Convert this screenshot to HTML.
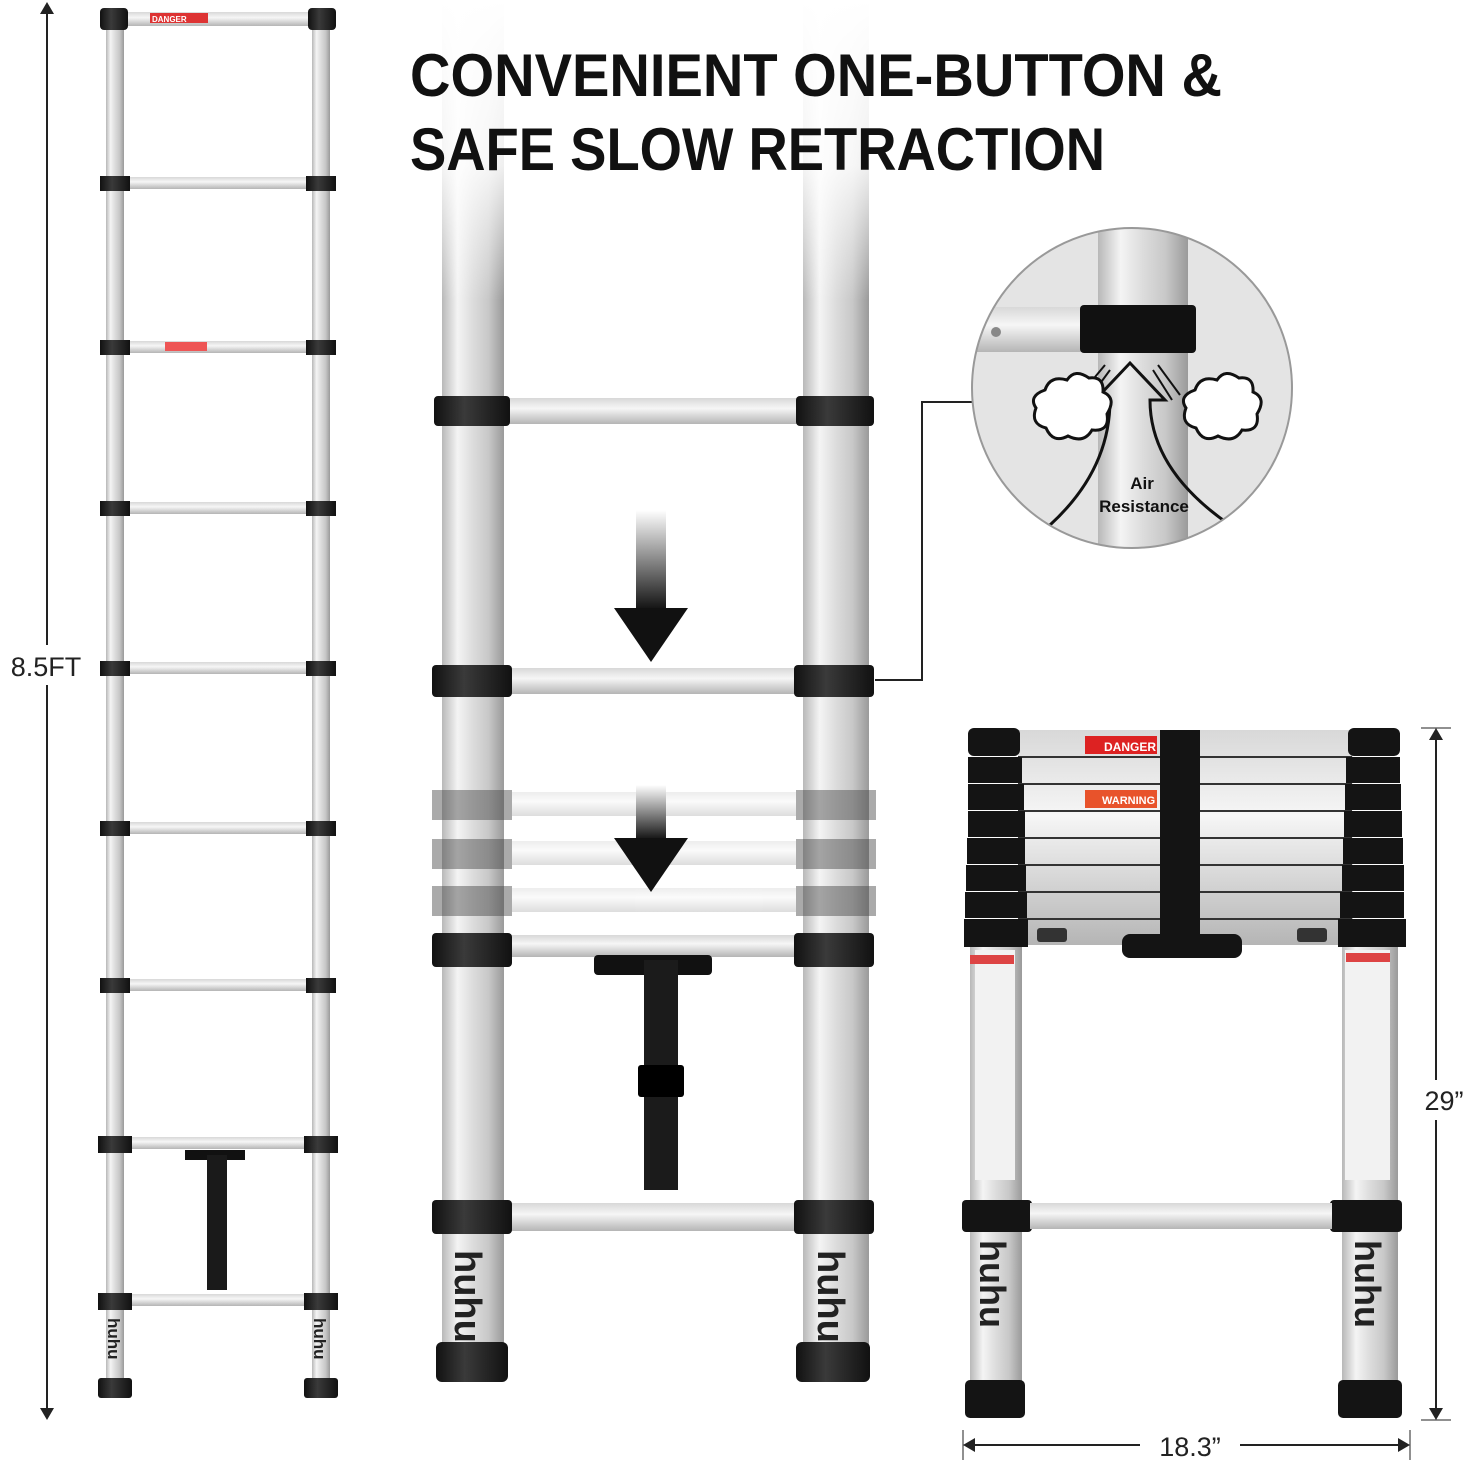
<!DOCTYPE html>
<html><head><meta charset="utf-8"><style>
html,body{margin:0;padding:0;background:#fff}
svg{display:block}
</style></head><body>
<svg width="1471" height="1463" viewBox="0 0 1471 1463" xmlns="http://www.w3.org/2000/svg" font-family="Liberation Sans, sans-serif">
<defs>
<linearGradient id="tube" x1="0" x2="1" y1="0" y2="0">
<stop offset="0" stop-color="#b8b8b8"/><stop offset="0.25" stop-color="#f4f4f4"/><stop offset="0.5" stop-color="#dcdcdc"/><stop offset="0.75" stop-color="#c8c8c8"/><stop offset="1" stop-color="#9a9a9a"/>
</linearGradient>
<linearGradient id="rung" x1="0" x2="0" y1="0" y2="1">
<stop offset="0" stop-color="#d8d8d8"/><stop offset="0.4" stop-color="#f6f6f6"/><stop offset="1" stop-color="#b5b5b5"/>
</linearGradient>
<linearGradient id="band" x1="0" x2="1" y1="0" y2="0">
<stop offset="0" stop-color="#111"/><stop offset="0.4" stop-color="#3a3a3a"/><stop offset="1" stop-color="#111"/>
</linearGradient>
<linearGradient id="arr" x1="0" x2="0" y1="0" y2="1">
<stop offset="0" stop-color="#fff"/><stop offset="1" stop-color="#111"/>
</linearGradient>
<linearGradient id="fade" x1="0" x2="0" y1="0" y2="1">
<stop offset="0" stop-color="#fff" stop-opacity="1"/><stop offset="0.55" stop-color="#fff" stop-opacity="0.85"/><stop offset="1" stop-color="#fff" stop-opacity="0"/>
</linearGradient>
<clipPath id="cc"><circle cx="1132" cy="388" r="160"/></clipPath>
</defs>

<!-- Left dimension -->
<line x1="47" y1="4" x2="47" y2="1418" stroke="#222" stroke-width="2"/>
<path d="M40 14 L47 2 L54 14 Z M40 1408 L47 1420 L54 1408 Z" fill="#222"/>
<rect x="0" y="645" width="94" height="40" fill="#fff"/>
<text x="46" y="676" font-size="27" text-anchor="middle" fill="#222">8.5FT</text>

<!-- Left ladder -->
<rect x="106" y="10" width="18" height="1380" fill="url(#tube)"/>
<rect x="312" y="10" width="18" height="1380" fill="url(#tube)"/>
<g>
<rect x="120" y="12" width="196" height="14" fill="url(#rung)"/>
<rect x="150" y="13" width="58" height="10" fill="#d33"/><text x="152" y="22" font-size="8" fill="#fff" font-weight="bold">DANGER</text>
<rect x="120" y="177" width="196" height="12" fill="url(#rung)"/>
<rect x="120" y="341" width="196" height="12" fill="url(#rung)"/>
<rect x="165" y="342" width="42" height="9" fill="#e55"/>
<rect x="120" y="502" width="196" height="12" fill="url(#rung)"/>
<rect x="120" y="662" width="196" height="12" fill="url(#rung)"/>
<rect x="120" y="822" width="196" height="12" fill="url(#rung)"/>
<rect x="120" y="979" width="196" height="12" fill="url(#rung)"/>
<rect x="120" y="1137" width="196" height="12" fill="url(#rung)"/>
<rect x="120" y="1294" width="196" height="12" fill="url(#rung)"/>
</g>
<g fill="url(#band)">
<rect x="100" y="8" width="28" height="22" rx="4"/><rect x="308" y="8" width="28" height="22" rx="4"/>
<rect x="100" y="176" width="30" height="15"/><rect x="306" y="176" width="30" height="15"/>
<rect x="100" y="340" width="30" height="15"/><rect x="306" y="340" width="30" height="15"/>
<rect x="100" y="501" width="30" height="15"/><rect x="306" y="501" width="30" height="15"/>
<rect x="100" y="661" width="30" height="15"/><rect x="306" y="661" width="30" height="15"/>
<rect x="100" y="821" width="30" height="15"/><rect x="306" y="821" width="30" height="15"/>
<rect x="100" y="978" width="30" height="15"/><rect x="306" y="978" width="30" height="15"/>
<rect x="98" y="1136" width="34" height="17"/><rect x="304" y="1136" width="34" height="17"/>
<rect x="98" y="1293" width="34" height="17"/><rect x="304" y="1293" width="34" height="17"/>
<rect x="98" y="1378" width="34" height="20" rx="3"/><rect x="304" y="1378" width="34" height="20" rx="3"/>
</g>
<rect x="185" y="1150" width="60" height="10" fill="#111"/>
<rect x="207" y="1155" width="20" height="135" fill="#1a1a1a"/>
<text transform="translate(108,1318) rotate(90)" font-size="17" font-weight="bold" fill="#222">huhu</text>
<text transform="translate(314,1318) rotate(90)" font-size="17" font-weight="bold" fill="#222">huhu</text>

<!-- Middle ladder -->
<rect x="442" y="0" width="62" height="1350" fill="url(#tube)"/>
<rect x="803" y="0" width="66" height="1350" fill="url(#tube)"/>
<rect x="430" y="0" width="450" height="300" fill="url(#fade)"/>
<rect x="500" y="398" width="306" height="26" fill="url(#rung)"/>
<rect x="500" y="668" width="306" height="26" fill="url(#rung)"/>
<g opacity="0.45">
<rect x="500" y="792" width="306" height="24" fill="url(#rung)"/>
<rect x="500" y="841" width="306" height="24" fill="url(#rung)"/>
<rect x="500" y="888" width="306" height="24" fill="url(#rung)"/>
<rect x="432" y="790" width="80" height="30" fill="#444"/><rect x="796" y="790" width="80" height="30" fill="#444"/>
<rect x="432" y="839" width="80" height="30" fill="#444"/><rect x="796" y="839" width="80" height="30" fill="#444"/>
<rect x="432" y="886" width="80" height="30" fill="#444"/><rect x="796" y="886" width="80" height="30" fill="#444"/>
</g>
<rect x="500" y="935" width="306" height="22" fill="url(#rung)"/>
<rect x="500" y="1203" width="306" height="28" fill="url(#rung)"/>
<g fill="url(#band)">
<rect x="434" y="396" width="76" height="30" rx="4"/><rect x="796" y="396" width="78" height="30" rx="4"/>
<rect x="432" y="665" width="80" height="32" rx="4"/><rect x="794" y="665" width="80" height="32" rx="4"/>
<rect x="432" y="933" width="80" height="34" rx="4"/><rect x="794" y="933" width="80" height="34" rx="4"/>
<rect x="432" y="1200" width="80" height="34" rx="4"/><rect x="794" y="1200" width="80" height="34" rx="4"/>
<rect x="436" y="1342" width="72" height="40" rx="6"/><rect x="796" y="1342" width="74" height="40" rx="6"/>
</g>
<rect x="594" y="955" width="118" height="20" rx="4" fill="#111"/>
<rect x="644" y="960" width="34" height="230" fill="#1b1b1b"/>
<rect x="638" y="1065" width="46" height="32" rx="3" fill="#000"/>
<text transform="translate(455,1250) rotate(90)" font-size="38" font-weight="bold" fill="#222">huhu</text>
<text transform="translate(818,1250) rotate(90)" font-size="38" font-weight="bold" fill="#222">huhu</text>
<rect x="636" y="510" width="30" height="100" fill="url(#arr)"/>
<path d="M614 608 L688 608 L651 662 Z" fill="#111"/>
<rect x="636" y="785" width="30" height="55" fill="url(#arr)"/>
<path d="M614 838 L688 838 L651 892 Z" fill="#111"/>

<!-- Title -->
<text x="410" y="96" font-size="60" font-weight="bold" fill="#111" textLength="812" lengthAdjust="spacingAndGlyphs">CONVENIENT ONE-BUTTON &amp;</text>
<text x="410" y="170" font-size="60" font-weight="bold" fill="#111" textLength="695" lengthAdjust="spacingAndGlyphs">SAFE SLOW RETRACTION</text>

<!-- connector -->
<polyline points="875,680 922,680 922,402 972,402" fill="none" stroke="#222" stroke-width="2"/>

<!-- Circle detail -->
<g clip-path="url(#cc)">
<rect x="960" y="220" width="350" height="340" fill="#e4e4e4"/>
<rect x="1098" y="220" width="90" height="340" fill="url(#tube)"/>
<rect x="975" y="307" width="115" height="45" fill="url(#rung)"/>
<circle cx="996" cy="332" r="5" fill="#888"/>
<rect x="1080" y="305" width="116" height="48" rx="4" fill="#111"/>
<path d="M1050 525 Q1110 470 1110 400 L1095 400 L1130 363 L1165 400 L1150 400 Q1150 470 1230 525" fill="none" stroke="#111" stroke-width="3"/>
<g stroke="#111" stroke-width="2">
<line x1="1080" y1="395" x2="1105" y2="365"/><line x1="1088" y1="400" x2="1110" y2="370"/>
<line x1="1180" y1="395" x2="1158" y2="365"/><line x1="1172" y1="400" x2="1153" y2="370"/>
</g>
<g fill="#fff" stroke="#111" stroke-width="3">
<path d="M1045 390 q5-15 22-10 q8-12 22-2 q15-2 14 14 q14 6 4 22 q3 18-15 16 q-8 14-24 6 q-15 8-22-8 q-16-4-10-20 q-8-12 9-18z"/>
<path d="M1195 390 q5-15 22-10 q8-12 22-2 q15-2 14 14 q14 6 4 22 q3 18-15 16 q-8 14-24 6 q-15 8-22-8 q-16-4-10-20 q-8-12 9-18z"/>
</g>
<text x="1142" y="489" font-size="17" font-weight="bold" text-anchor="middle" fill="#111">Air</text>
<text x="1144" y="512" font-size="17" font-weight="bold" text-anchor="middle" fill="#111">Resistance</text>
</g>
<circle cx="1132" cy="388" r="160" fill="none" stroke="#999" stroke-width="2"/>

<!-- Right ladder -->
<rect x="970" y="940" width="52" height="450" fill="url(#tube)"/>
<rect x="1342" y="940" width="56" height="450" fill="url(#tube)"/>
<rect x="975" y="950" width="40" height="230" fill="#f2f2f2"/>
<rect x="1345" y="950" width="45" height="230" fill="#f2f2f2"/>
<rect x="970" y="955" width="44" height="9" fill="#d44"/>
<rect x="1346" y="953" width="44" height="9" fill="#d44"/>
<rect x="1018" y="730" width="335" height="215" fill="url(#rung)"/>
<g stroke="#333" stroke-width="2">
<line x1="1018" y1="757" x2="1352" y2="757"/><line x1="1018" y1="784" x2="1352" y2="784"/>
<line x1="1018" y1="811" x2="1352" y2="811"/><line x1="1018" y1="838" x2="1352" y2="838"/>
<line x1="1018" y1="865" x2="1352" y2="865"/><line x1="1018" y1="892" x2="1352" y2="892"/>
<line x1="1018" y1="919" x2="1352" y2="919"/>
</g>
<rect x="1085" y="736" width="72" height="18" fill="#d22"/>
<text x="1104" y="751" font-size="12" font-weight="bold" fill="#fff">DANGER</text>
<rect x="1085" y="790" width="72" height="18" fill="#e8532b"/>
<text x="1102" y="804" font-size="11" font-weight="bold" fill="#fff">WARNING</text>
<g fill="#141414">
<rect x="968" y="728" width="52" height="28" rx="6"/><rect x="1348" y="728" width="52" height="28" rx="6"/>
<rect x="968" y="757" width="54" height="26"/><rect x="1346" y="757" width="54" height="26"/>
<rect x="968" y="784" width="56" height="26"/><rect x="1345" y="784" width="56" height="26"/>
<rect x="968" y="811" width="57" height="26"/><rect x="1344" y="811" width="58" height="26"/>
<rect x="967" y="838" width="58" height="26"/><rect x="1343" y="838" width="60" height="26"/>
<rect x="966" y="865" width="60" height="26"/><rect x="1342" y="865" width="62" height="26"/>
<rect x="965" y="892" width="62" height="26"/><rect x="1340" y="892" width="64" height="26"/>
<rect x="964" y="919" width="64" height="28"/><rect x="1338" y="919" width="68" height="28"/>
<rect x="1037" y="928" width="30" height="14" rx="3" fill="#333"/><rect x="1297" y="928" width="30" height="14" rx="3" fill="#333"/>
<rect x="1160" y="730" width="40" height="210"/>
<rect x="1122" y="934" width="120" height="24" rx="8"/>
<rect x="962" y="1200" width="70" height="32" rx="4"/><rect x="1330" y="1200" width="72" height="32" rx="4"/>
<rect x="965" y="1380" width="60" height="38" rx="5"/><rect x="1338" y="1380" width="64" height="38" rx="5"/>
</g>
<rect x="1030" y="1203" width="302" height="26" fill="url(#rung)"/>
<text transform="translate(980,1240) rotate(90)" font-size="36" font-weight="bold" fill="#222">huhu</text>
<text transform="translate(1355,1240) rotate(90)" font-size="36" font-weight="bold" fill="#222">huhu</text>

<!-- Right dimensions -->
<line x1="1436" y1="730" x2="1436" y2="1418" stroke="#222" stroke-width="2"/>
<path d="M1429 740 L1436 728 L1443 740 Z M1429 1408 L1436 1420 L1443 1408 Z" fill="#222"/>
<line x1="1421" y1="728" x2="1451" y2="728" stroke="#222"/><line x1="1421" y1="1420" x2="1451" y2="1420" stroke="#222"/>
<rect x="1415" y="1080" width="56" height="40" fill="#fff"/>
<text x="1444" y="1110" font-size="27" text-anchor="middle" fill="#222">29”</text>
<line x1="965" y1="1445" x2="1408" y2="1445" stroke="#222" stroke-width="2"/>
<path d="M975 1438 L963 1445 L975 1452 Z M1398 1438 L1410 1445 L1398 1452 Z" fill="#222"/>
<line x1="963" y1="1430" x2="963" y2="1460" stroke="#222"/><line x1="1410" y1="1430" x2="1410" y2="1460" stroke="#222"/>
<rect x="1140" y="1428" width="100" height="35" fill="#fff"/>
<text x="1190" y="1456" font-size="27" text-anchor="middle" fill="#222">18.3”</text>
</svg>
</body></html>
